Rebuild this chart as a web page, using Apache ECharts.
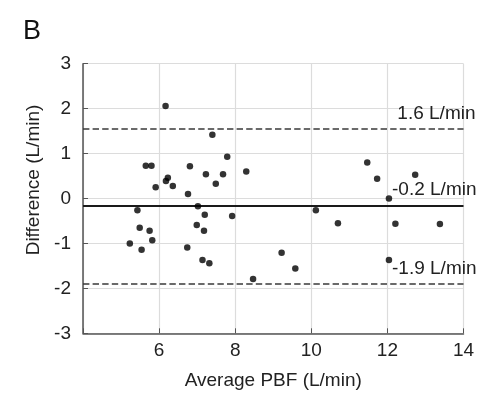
<!DOCTYPE html>
<html>
<head>
<meta charset="utf-8">
<script src="https://cdn.jsdelivr.net/npm/echarts@6/dist/echarts.min.js"></script>
<style>
  html, body { margin: 0; padding: 0; background: #fff; }
  #chart-container { width: 500px; height: 401px; }
</style>
</head>
<body>
<div id="chart-container"></div>
<script>
// Bland-Altman data: average PBF vs difference
var avgPBF = [6.17, 7.40, 7.79, 5.65, 5.80, 6.81, 7.23, 7.68, 8.29, 6.23, 6.18, 6.36, 5.91, 7.49,
    6.76, 7.02, 5.43, 7.20, 7.92, 6.99, 5.49, 5.75, 7.18, 5.82, 5.23, 5.54, 6.74, 7.14, 7.32,
    9.22, 8.47, 11.47, 11.73, 12.73, 12.04, 10.12, 10.70, 12.21, 13.38, 9.58, 12.04];
var diffPBF = [2.06, 1.42, 0.93, 0.73, 0.73, 0.72, 0.54, 0.54, 0.60, 0.46, 0.39, 0.28, 0.25, 0.33,
    0.10, -0.17, -0.26, -0.36, -0.39, -0.59, -0.65, -0.72, -0.72, -0.93, -1.00, -1.14, -1.09, -1.37, -1.44,
    -1.21, -1.79, 0.80, 0.44, 0.53, 0.00, -0.26, -0.55, -0.56, -0.57, -1.56, -1.37];

var limitValues = [1.56, -0.17, -1.89];
var limitLabels = ['1.6 L/min', '-0.2 L/min', '-1.9 L/min'];
var limitTypes = ['dashed', 'solid', 'dashed'];

var font = 'Liberation Sans, Arial, sans-serif';
var textColor = '#222';

var dom = document.getElementById('chart-container');
var myChart = echarts.init(dom, null, { renderer: 'canvas' });

var points = avgPBF.map(function (x, i) { return [x, diffPBF[i]]; });

var lines = limitValues.map(function (v, i) {
    return {
        yAxis: v,
        lineStyle: {
            type: limitTypes[i],
            color: i === 1 ? '#1a1a1a' : '#3a3a3a',
            width: i === 1 ? 2 : 1.6
        },
        label: {
            show: true,
            formatter: limitLabels[i],
            position: 'insideEndTop',
            offset: [i === 0 ? 17 : 18, i === 1 ? -2 : 0],
            fontSize: 19,
            fontFamily: font,
            color: textColor
        }
    };
});

var option = {
    animation: false,
    grid: { left: 83, right: 36.5, top: 63.7, bottom: 67.7 },
    graphic: [
        {
            type: 'text', left: 23, top: 18,
            style: { text: 'B', fontSize: 27, fontFamily: font, fill: '#111' }
        },
        {
            type: 'text', x: 34, y: 180, rotation: Math.PI / 2,
            style: {
                text: 'Difference (L/min)', fontSize: 19, fontFamily: font, fill: textColor,
                align: 'center', verticalAlign: 'middle'
            }
        }
    ],
    xAxis: {
        type: 'value',
        min: 4, max: 14, interval: 2,
        name: 'Average PBF (L/min)',
        nameLocation: 'middle',
        nameGap: 38,
        nameTextStyle: { fontSize: 19, fontFamily: font, color: textColor },
        axisLine: { show: true, onZero: false, lineStyle: { color: '#555', width: 1.5 } },
        axisTick: { show: true, inside: true, length: 5, lineStyle: { color: '#555' } },
        axisLabel: {
            margin: 8, fontSize: 19, fontFamily: font, color: textColor,
            formatter: function (v) { return v === 4 ? '' : v; }
        },
        splitLine: { show: true, lineStyle: { color: '#dcdcdc', width: 1.2 } }
    },
    yAxis: {
        type: 'value',
        min: -3, max: 3, interval: 1,
        axisLine: { show: true, onZero: false, lineStyle: { color: '#555', width: 1.5 } },
        axisTick: { show: true, inside: true, length: 5, lineStyle: { color: '#555' } },
        axisLabel: { margin: 12, fontSize: 19, fontFamily: font, color: textColor },
        splitLine: { show: true, lineStyle: { color: '#dcdcdc', width: 1.2 } }
    },
    series: [
        {
            type: 'scatter',
            data: points,
            symbolSize: 6.5,
            itemStyle: { color: '#000' },
            z: 3,
            markLine: {
                silent: true,
                symbol: 'none',
                z: 2,
                data: lines
            }
        }
    ]
};

myChart.setOption(option);
window.addEventListener('resize', myChart.resize);
</script>
</body>
</html>
